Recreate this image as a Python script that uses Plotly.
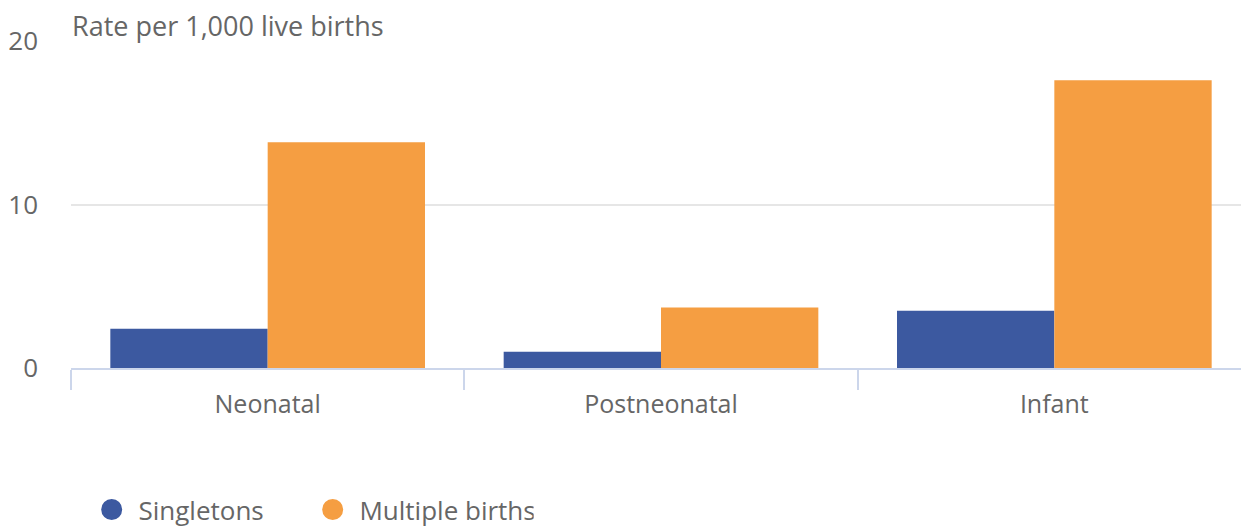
import plotly.graph_objects as go

categories = ["Neonatal", "Postneonatal", "Infant"]
singletons = [2.4, 1.0, 3.5]
multiple_births = [13.8, 3.7, 17.6]
series_names = ["Singletons", "Multiple births"]
colors = ["#3c59a0", "#f59e42"]
y_ticks = [0, 10, 20]
y_title = "Rate per 1,000 live births"

FONT = "Open Sans"
GRAY = "#666666"

fig = go.Figure()
for name, vals, col in zip(series_names, [singletons, multiple_births], colors):
    fig.add_trace(go.Bar(x=categories, y=vals, name=name, marker=dict(color=col, line=dict(width=0)),
                         showlegend=False))
    fig.add_trace(go.Scatter(x=[None], y=[None], mode="markers", name="\u00a0" + name,
                             marker=dict(symbol="circle", size=16, color=col,
                                         line=dict(color=col, width=5))))

fig.update_layout(
    width=1249, height=528,
    margin=dict(l=63, r=6, t=33, b=168, autoexpand=False),
    paper_bgcolor="white", plot_bgcolor="white",
    barmode="group", bargap=0.2, bargroupgap=0,
    font=dict(family=FONT, size=25, color=GRAY),
    xaxis=dict(showline=True, linecolor="#ccd6eb", linewidth=2,
               ticks="outside", tickson="boundaries", ticklen=20, tickcolor="#ccd6eb",
               tickwidth=2, tickfont=dict(size=25, color=GRAY), showgrid=False,
               ticklabelstandoff=13, automargin=False),
    yaxis=dict(range=[0, 20], tickvals=y_ticks, showgrid=True, gridcolor="#e6e6e6", gridwidth=1.5,
               zeroline=False, tickfont=dict(size=26, color=GRAY), ticklabelstandoff=32,
               fixedrange=True, automargin=False),
    legend=dict(orientation="h", xref="container", yref="container", x=0.067, y=0.05,
                xanchor="left", yanchor="middle", font=dict(size=26, color=GRAY),
                entrywidthmode="pixels", entrywidth=176),
    annotations=[dict(text=y_title, xref="paper", yref="paper", x=0, y=1, xanchor="left",
                      yanchor="bottom", yshift=-4, borderpad=0, showarrow=False,
                      font=dict(size=27, color=GRAY, family=FONT))],
)

fig.write_html("out.html")
